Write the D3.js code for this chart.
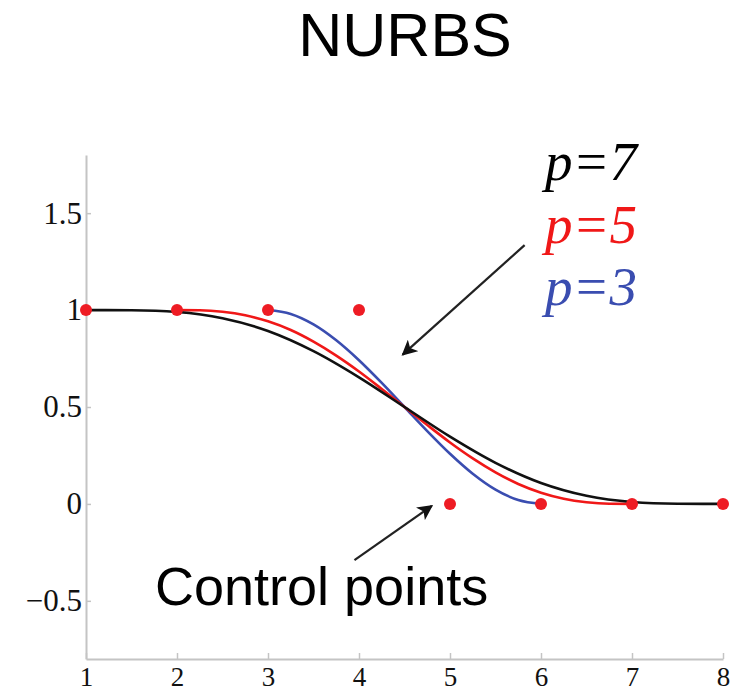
<!DOCTYPE html>
<html>
<head>
<meta charset="utf-8">
<script src="https://cdn.jsdelivr.net/npm/d3@7"></script>
<style>
  html, body { margin: 0; padding: 0; background: #fff; }
  svg { display: block; }
</style>
</head>
<body>
<svg id="chart" width="735" height="694"></svg>
<script>
// ---- data ----
const title = "NURBS";
const controlX = [1, 2, 3, 4, 5, 6, 7, 8];
const controlY = [1, 1, 1, 1, 0, 0, 0, 0];

// p = 7 curve
const p7X = [1, 1.5, 2, 2.5, 3, 3.5, 4, 4.5, 5, 5.5, 6, 6.5, 7, 7.5, 8];
const p7Y = [1, 0.999, 0.990, 0.958, 0.892, 0.788, 0.653, 0.5, 0.347, 0.212, 0.108, 0.042, 0.010, 0.001, 0];

// p = 5 curve
const p5X = [2, 2.25, 2.5, 2.75, 3, 3.25, 3.5, 3.75, 4, 4.25, 4.5, 4.75, 5, 5.25, 5.5, 5.75, 6, 6.25, 6.5, 6.75, 7];
const p5Y = [1, 0.999, 0.991, 0.973, 0.942, 0.897, 0.837, 0.765, 0.683, 0.593, 0.5, 0.407, 0.317, 0.235, 0.163, 0.103, 0.058, 0.027, 0.009, 0.001, 0];

// p = 3 curve
const p3X = [3, 3.25, 3.5, 3.75, 4, 4.25, 4.5, 4.75, 5, 5.25, 5.5, 5.75, 6];
const p3Y = [1, 0.980, 0.926, 0.844, 0.741, 0.624, 0.5, 0.376, 0.259, 0.156, 0.074, 0.020, 0];

const seriesNames = ["p=7", "p=5", "p=3"];
const seriesColors = ["#111111", "#f01818", "#3a4db0"];

const xTicks = [1, 2, 3, 4, 5, 6, 7, 8];
const yTicks = [-0.5, 0, 0.5, 1, 1.5];
const yTickLabels = ["\u22120.5", "0", "0.5", "1", "1.5"];

// annotations (data coordinates)
const annoText = "Control points";
const arrowCurves = { from: [5.82, 1.335], to: [4.48, 0.77] };
const arrowPoints = { from: [3.95, -0.29], to: [4.8, -0.01] };

// ---- chart ----
const svg = d3.select("#chart");
const x = d3.scaleLinear().domain([1, 8]).range([86, 723]);
const y = d3.scaleLinear().domain([-0.8, 1.8]).range([659, 155]);

const axisColor = "#c4c4c4";

// Title
svg.append("text")
  .attr("x", 405).attr("y", 56)
  .attr("text-anchor", "middle")
  .attr("font-family", "Liberation Sans, Arial, sans-serif")
  .attr("font-size", 61)
  .attr("fill", "#000")
  .text(title);

// Y axis
const yAxis = svg.append("g")
  .attr("transform", `translate(${x(1)},0)`)
  .call(d3.axisLeft(y).tickValues(yTicks)
    .tickFormat((d, i) => yTickLabels[i])
    .tickSizeInner(-5).tickSizeOuter(0).tickPadding(4));
// X axis
const xAxis = svg.append("g")
  .attr("transform", `translate(0,${y(-0.8)})`)
  .call(d3.axisBottom(x).tickValues(xTicks)
    .tickFormat(d3.format("d"))
    .tickSizeInner(-6).tickSizeOuter(0).tickPadding(8));

[yAxis, xAxis].forEach(g => {
  g.select(".domain").attr("stroke", axisColor).attr("stroke-width", 2);
  g.selectAll(".tick line").attr("stroke", axisColor).attr("stroke-width", 1.5);
  g.selectAll(".tick text")
    .attr("fill", "#111")
    .attr("font-family", "Liberation Serif, 'Times New Roman', serif")
    .attr("font-size", 31);
});
xAxis.selectAll(".tick text").attr("font-size", 27);

// Curves
const line = d3.line().x(d => x(d[0])).y(d => y(d[1])).curve(d3.curveMonotoneX);
const curves = [
  d3.zip(p7X, p7Y),
  d3.zip(p5X, p5Y),
  d3.zip(p3X, p3Y)
];
// draw p=3 first, then p=5, then p=7 on top
[2, 1, 0].forEach(i => {
  svg.append("path")
    .datum(curves[i])
    .attr("fill", "none")
    .attr("stroke", seriesColors[i])
    .attr("stroke-width", 2.6)
    .attr("d", line);
});

// Control points
svg.append("g").selectAll("circle")
  .data(d3.zip(controlX, controlY))
  .join("circle")
  .attr("cx", d => x(d[0]))
  .attr("cy", d => y(d[1]))
  .attr("r", 6)
  .attr("fill", "#ee1c24");

// Legend labels
const legendX = 545;
const legendBaselines = [180, 243, 305];
seriesNames.forEach((name, i) => {
  svg.append("text")
    .attr("x", legendX).attr("y", legendBaselines[i])
    .attr("font-family", "Liberation Serif, 'Times New Roman', serif")
    .attr("font-style", "italic")
    .attr("font-size", 55)
    .attr("fill", seriesColors[i] === "#111111" ? "#000" : seriesColors[i])
    .text(name);
});

// Arrow marker
svg.append("defs").append("marker")
  .attr("id", "arrowhead")
  .attr("viewBox", "0 0 10 10")
  .attr("refX", 9).attr("refY", 5)
  .attr("markerWidth", 7).attr("markerHeight", 7)
  .attr("markerUnits", "strokeWidth")
  .attr("orient", "auto")
  .append("path")
  .attr("d", "M0,0 L10,5 L0,10 L2.5,5 Z")
  .attr("fill", "#111");

[arrowCurves, arrowPoints].forEach(a => {
  svg.append("line")
    .attr("x1", x(a.from[0])).attr("y1", y(a.from[1]))
    .attr("x2", x(a.to[0])).attr("y2", y(a.to[1]))
    .attr("stroke", "#222")
    .attr("stroke-width", 2.2)
    .attr("marker-end", "url(#arrowhead)");
});

// Annotation text
svg.append("text")
  .attr("x", 155).attr("y", 605)
  .attr("font-family", "Liberation Sans, Arial, sans-serif")
  .attr("font-size", 54)
  .attr("fill", "#000")
  .text(annoText);
</script>
</body>
</html>
